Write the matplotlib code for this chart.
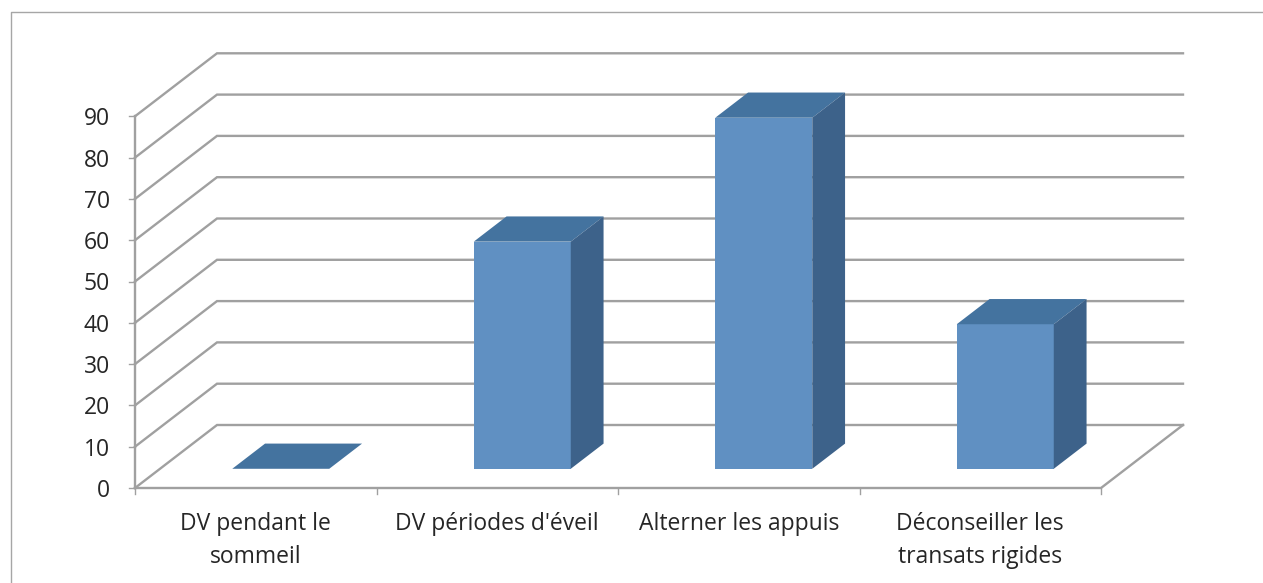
import matplotlib
matplotlib.use("Agg")
import matplotlib.pyplot as plt
from matplotlib.lines import Line2D

plt.rcParams['font.family'] = ['Open Sans', 'DejaVu Sans']

categories = ["DV pendant le\nsommeil", "DV périodes d'éveil", "Alterner les appuis", "Déconseiller les\ntransats rigides"]
values = [0, 55, 85, 35]
yticks = [0, 10, 20, 30, 40, 50, 60, 70, 80, 90]

W, H = 1263, 583
# pixels of the front floor edge, one category step, one value unit
X0, Y0, CAT_PX, VAL_PX = 135, 488, 241.5, 4.13
# shift of the back wall, in category and value units
DEPTH_X = 82 / CAT_PX
DEPTH_Y = 63 / VAL_PX
BAR_W = 97 / CAT_PX
BAR_D0, BAR_D1 = 0.305, 0.705

GRID = "#a0a0a0"
TEXT = "#262626"
FRONT = "#6090c2"
TOP = "#44739f"
SIDE = "#3d628a"
FONT = 16.5


def proj(c, v, d):
    # oblique projection: category, value, depth 0-1
    return c + d * DEPTH_X, v + d * DEPTH_Y


fig = plt.figure(figsize=(W / 100, H / 100), dpi=100, facecolor="white")
ax = fig.add_axes([0, 0, 1, 1])
ax.set_xlim(-X0 / CAT_PX, (W - X0) / CAT_PX)
ax.set_ylim((Y0 - H) / VAL_PX, Y0 / VAL_PX)
ax.axis("off")

# outer chart frame
fig.add_artist(Line2D([11 / W, 11 / W, 1], [0, 1 - 12 / H, 1 - 12 / H], color="#a6a6a6", lw=1))

n = len(categories)

# walls and floor
for v in yticks:
    xs, ys = zip(proj(0, v, 0), proj(0, v, 1), proj(n, v, 1))
    ax.plot(xs, ys, color=GRID, lw=1.7, solid_joinstyle="miter", zorder=1)
    ax.plot([-6 / CAT_PX, 0], [v, v], color=GRID, lw=1, zorder=1)
    ax.text(-25 / CAT_PX, v, str(v), ha="right", va="center_baseline", fontsize=FONT, color=TEXT)
xs, ys = zip(proj(0, 0, 0), proj(n, 0, 0), proj(n, 0, 1))
ax.plot(xs, ys, color=GRID, lw=1.7, solid_joinstyle="miter", zorder=1)
ax.plot([0, 0], [0, yticks[-1]], color=GRID, lw=1.7, zorder=1)

for i in range(n + 1):
    ax.plot([i, i], [0, -6 / VAL_PX], color=GRID, lw=1, zorder=1)

# bars
bar_x = [i + 0.5 + BAR_D0 * DEPTH_X for i in range(n)]
bar_y0 = BAR_D0 * DEPTH_Y
ax.bar(bar_x, values, width=BAR_W, bottom=bar_y0, color=FRONT, zorder=3)

for i, val in enumerate(values):
    left = i + 0.5 - BAR_W / 2
    right = i + 0.5 + BAR_W / 2
    top = [proj(left, val, BAR_D0), proj(right, val, BAR_D0), proj(right, val, BAR_D1), proj(left, val, BAR_D1)]
    side = [proj(right, 0, BAR_D0), proj(right, val, BAR_D0), proj(right, val, BAR_D1), proj(right, 0, BAR_D1)]
    ax.fill(*zip(*top), color=TOP, lw=0, zorder=3)
    ax.fill(*zip(*side), color=SIDE, lw=0, zorder=3)

# category labels
for i, lab in enumerate(categories):
    ax.text(i + 0.5, -24 / VAL_PX, lab, ha="center", va="top", fontsize=FONT, color=TEXT, linespacing=1.5)

fig.savefig("out.png", dpi=100, facecolor="white")
